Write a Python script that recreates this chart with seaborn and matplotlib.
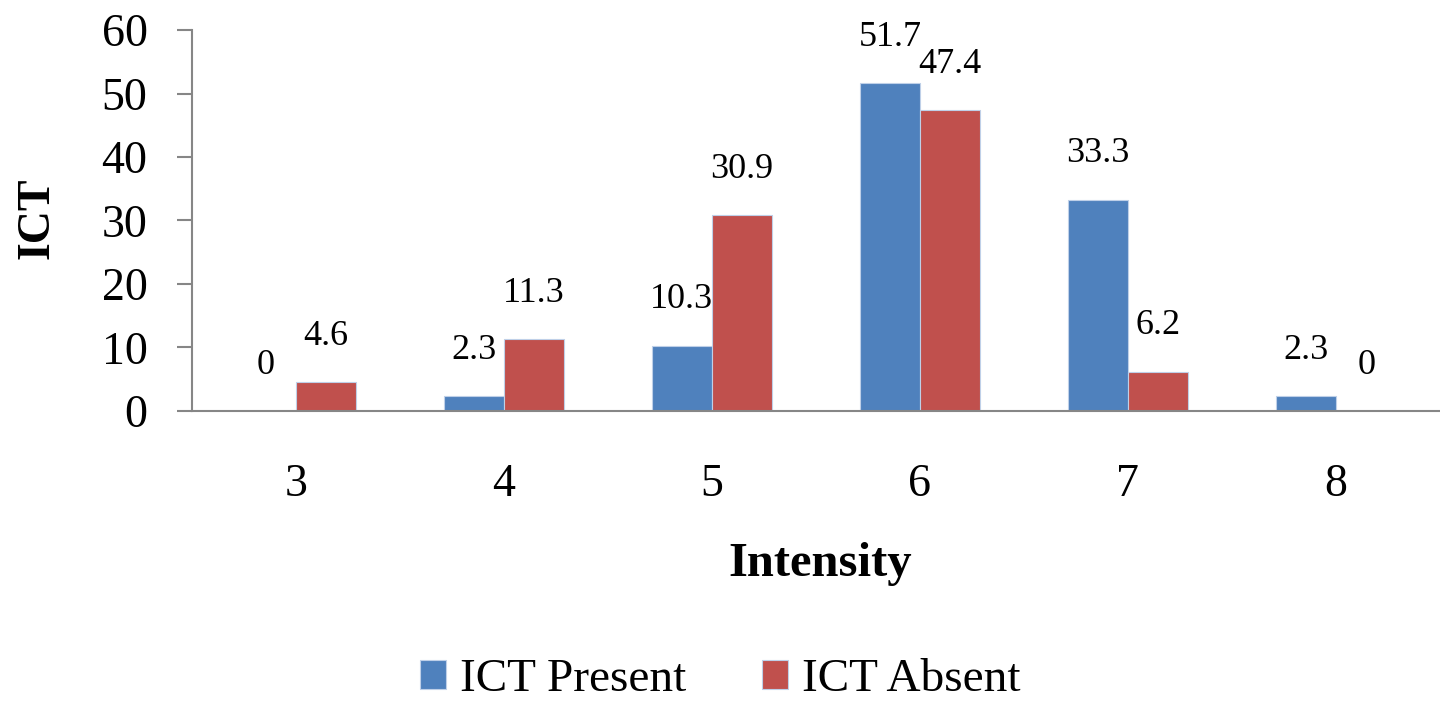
import matplotlib
matplotlib.use("Agg")
import matplotlib.pyplot as plt
import seaborn as sns
import pandas as pd

intensity = ["3", "4", "5", "6", "7", "8"]
ict_present = [0, 2.3, 10.3, 51.7, 33.3, 2.3]
ict_absent = [4.6, 11.3, 30.9, 47.4, 6.2, 0]
series_names = ["ICT Present", "ICT Absent"]
y_ticks = [0, 10, 20, 30, 40, 50, 60]

df = pd.DataFrame({
    "Intensity": intensity * 2,
    "value": ict_present + ict_absent,
    "series": [series_names[0]] * len(intensity) + [series_names[1]] * len(intensity),
})

sns.set_style("white")
plt.rcParams["font.family"] = ["Liberation Serif", "DejaVu Serif"]
plt.rcParams["text.color"] = "black"
plt.rcParams["axes.labelcolor"] = "black"

fig = plt.figure(figsize=(14.4, 7.01), dpi=100)
ax = fig.add_axes([0.1333, 0.4137, 0.8667, 0.5435])

palette = {"ICT Present": "#4F81BD", "ICT Absent": "#C0504D"}
sns.barplot(data=df, x="Intensity", y="value", hue="series", order=intensity,
            hue_order=series_names, palette=palette, width=0.58, ax=ax,
            edgecolor="#BFD0E8", linewidth=0.8, saturation=1, legend=True)

for cont in ax.containers:
    ax.bar_label(cont, fmt="%g", padding=21, fontsize=26, color="black")

ax.set_ylim(0, 60)
ax.set_xlim(-0.5, 5.5)
ax.set_yticks(y_ticks)
ax.tick_params(axis="y", length=11, width=1.5, color="#868686", labelcolor="black",
               pad=21, labelsize=33, left=True)
ax.tick_params(axis="x", length=0, pad=38, labelsize=33, labelcolor="black")

for s in ["top", "right"]:
    ax.spines[s].set_visible(False)
for s in ["left", "bottom"]:
    ax.spines[s].set_color("#868686")
    ax.spines[s].set_linewidth(1.5)

ax.set_xlabel("Intensity", fontsize=35, fontweight="bold", va="top")
ax.xaxis.set_label_coords(0.503, -0.345)
ax.set_ylabel("ICT", fontsize=33, fontweight="bold", va="center")
ax.yaxis.set_label_coords(-0.124, 0.507)

handles, labels = ax.get_legend_handles_labels()
ax.get_legend().remove()
fig.legend(handles, labels, loc="center", bbox_to_anchor=(0.5, 1 - 680 / 701), ncol=2,
           frameon=False, fontsize=34, handlelength=0.55, handleheight=0.55,
           handletextpad=0.3, columnspacing=1.6)

fig.savefig("out.png", dpi=100)
